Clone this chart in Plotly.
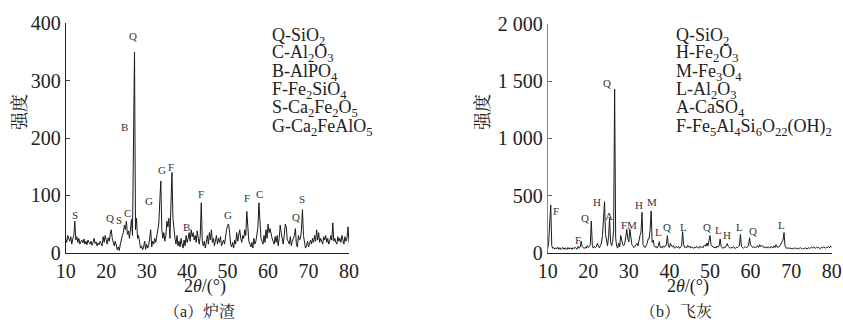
import plotly.graph_objects as go

# 2theta grid: 10 to 80 deg in 0.25 deg steps
two_theta = [10 + 0.25 * i for i in range(281)]

# (a) slag intensities (per degree: .00, .25, .50, .75)
slag = [
    25, 18, 30, 22,   20, 28, 15, 24,   30, 55, 22, 28,   18, 25, 15, 20,
    22, 17, 24, 15,   20, 14, 22, 18,   15, 20, 13, 18,   25, 16, 19, 12,
    17, 14, 20, 16,   12, 28, 18, 30,   22, 15, 26, 20,   32, 40, 25, 18,
    12, 20, 8, 5,     10, 4, 15, 25,    30, 35, 48, 40,   55, 32, 38, 25,
    45, 58, 30, 265,  350, 40, 60, 25,  30, 18, 8, 12,    5, 10, 20, 6,
    15, 8, 12, 25,    40, 10, 20, 15,   25, 18, 30, 40,   50, 90, 125, 40,
    25, 35, 20, 30,   55, 45, 60, 25,   100, 140, 60, 35, 25, 15, 30, 12,
    20, 10, 25, 15,   8, 22, 12, 30,   18, 25, 35, 20,   40, 28, 35, 22,
    30, 18, 38, 25,   15, 30, 87, 20,   12, 20, 8, 18,    30, 15, 35, 22,
    40, 18, 25, 12,   20, 30, 15, 25,   18, 28, 12, 20,   22, 15, 30, 40,
    48, 50, 35, 15,   10, 18, 8, 22,    15, 35, 20, 28,   40, 25, 18, 30,
    25, 40, 30, 72,   35, 20, 15, 10,   18, 8, 25, 15,    20, 35, 45, 87,
    50, 25, 20, 15,   30, 18, 40, 25,   50, 35, 42, 30,   25, 20, 15, 28,
    18, 30, 12, 25,   48, 35, 20, 15,   30, 50, 45, 22,   20, 15, 28, 12,
    20, 25, 30, 42,   15, 10, 30, 22,   25, 40, 75, 30,   15, 8, 12, 20,
    10, 18, 22, 15,   25, 18, 30, 20,   40, 22, 35, 18,   25, 20, 15, 28,
    22, 30, 18, 25,   15, 20, 30, 22,   52, 20, 25, 18,   15, 28, 20, 25,
    18, 30, 22, 15,   28, 20, 25, 45,   18,
]

# (b) fly ash intensities
ash = [
    35, 90, 260, 417,  60, 38, 45, 32,   42, 35, 48, 30,   44, 28, 38, 46,
    30, 42, 35, 28,    46, 32, 38, 42,   30, 44, 35, 48,   38, 30, 56, 40,
    48, 100, 55, 40,   36, 48, 40, 62,   45, 55, 70, 277,  62, 40, 56, 45,
    52, 82, 60, 42,    62, 85, 150, 300, 446, 160, 95, 60, 140, 300, 95, 60,
    90, 200, 1430, 130, 55, 40, 85, 50,  150, 110, 70, 62, 85, 140, 205, 120,
    95, 205, 110, 70,  60, 45, 56, 72,   82, 60, 125, 150, 180, 353, 70, 50,
    45, 60, 80, 120,   120, 200, 365, 90, 110, 60, 48, 55, 40, 60, 96, 45,
    50, 42, 60, 48,    55, 70, 149, 60,  45, 80, 58, 50,   62, 40, 48, 55,
    42, 55, 38, 48,    60, 184, 70, 45,  50, 42, 65, 48,   58, 40, 52, 45,
    38, 50, 42, 56,    45, 38, 55, 48,   52, 42, 60, 70,   55, 85, 60, 110,
    150, 70, 55, 48,   45, 52, 40, 58,   48, 60, 120, 55,  42, 38, 50, 45,
    60, 80, 55, 42,    38, 48, 40, 52,   42, 36, 48, 45,   52, 60, 160, 55,
    45, 40, 48, 52,    42, 55, 60, 130,  70, 58, 45, 52,   48, 42, 55, 60,
    46, 70, 52, 62,    58, 45, 50, 40,   52, 44, 48, 40,   55, 48, 42, 60,
    45, 70, 50, 48,    56, 60, 80, 100,  110, 176, 60, 42, 38, 44, 36, 42,
    34, 40, 30, 38,    42, 35, 40, 32,   36, 44, 38, 30,   40, 35, 42, 38,
    32, 45, 38, 42,    48, 40, 52, 45,   38, 50, 42, 46,   40, 35, 48, 42,
    52, 44, 38, 48,    45, 55, 42, 58,   50,
]

# peak labels
slag_lbl = ["Q", "B", "S", "Q", "S", "C", "G", "G", "F", "B", "F", "G", "F", "C", "Q", "S"]
slag_lbl_x = [26.7, 24.6, 12.3, 20.9, 23.2, 25.3, 30.6, 33.7, 36.0, 39.9, 43.4, 50.2, 54.7, 57.8, 66.9, 68.3]
slag_lbl_y = [377, 219, 66, 60, 57, 70, 90, 144, 149, 45, 102, 66, 95, 102, 63, 94]

ash_lbl = ["Q", "F", "F", "Q", "H", "A", "FM", "H", "M", "L", "Q", "L", "Q", "L", "H", "L", "Q", "L"]
ash_lbl_x = [24.6, 12.0, 17.4, 19.2, 22.1, 25.2, 30.0, 32.5, 35.8, 37.3, 39.4, 43.4, 49.3, 52.2, 54.3, 57.2, 60.7, 67.7]
ash_lbl_y = [1487, 365, 111, 300, 446, 324, 242, 417, 441, 184, 228, 228, 228, 199, 155, 228, 190, 242]

slag_legend = ["Q-SiO<sub>2</sub>", "C-Al<sub>2</sub>O<sub>3</sub>", "B-AlPO<sub>4</sub>",
               "F-Fe<sub>2</sub>SiO<sub>4</sub>", "S-Ca<sub>2</sub>Fe<sub>2</sub>O<sub>5</sub>",
               "G-Ca<sub>2</sub>FeAlO<sub>5</sub>"]
ash_legend = ["Q-SiO<sub>2</sub>", "H-Fe<sub>2</sub>O<sub>3</sub>", "M-Fe<sub>3</sub>O<sub>4</sub>",
              "L-Al<sub>2</sub>O<sub>3</sub>", "A-CaSO<sub>4</sub>",
              "F-Fe<sub>5</sub>Al<sub>4</sub>Si<sub>6</sub>O<sub>22</sub>(OH)<sub>2</sub>"]

x_ticks = [10, 20, 30, 40, 50, 60, 70, 80]
slag_yticks = [0, 100, 200, 300, 400]
ash_yticks = [0, 500, 1000, 1500, 2000]
ash_yticktext = ["0", "500", "1 000", "1 500", "2 000"]

SERIF = "Liberation Serif, Times New Roman, serif"
CJK = "Liberation Serif, Noto Serif CJK SC, Noto Sans CJK SC"

W, H = 843, 320


def px(x):
    return x / W


def py(y):
    return (H - y) / H


fig = go.Figure()
fig.add_trace(go.Scatter(x=two_theta, y=slag, mode="lines",
                         line=dict(color="#1a1a1a", width=1), xaxis="x", yaxis="y",
                         showlegend=False, hoverinfo="skip"))
fig.add_trace(go.Scatter(x=two_theta, y=ash, mode="lines",
                         line=dict(color="#1a1a1a", width=1), xaxis="x2", yaxis="y2",
                         showlegend=False, hoverinfo="skip"))

xax = dict(range=[10, 80], tickvals=x_ticks, showline=True, linecolor="#222", linewidth=1,
           ticks="", showgrid=False, zeroline=False, automargin=False,
           ticklabeloverflow="allow",
           tickfont=dict(family=SERIF, size=20, color="#222"))
fig.update_layout(
    width=W, height=H,
    margin=dict(l=0, r=0, t=0, b=0, autoexpand=False),
    paper_bgcolor="white", plot_bgcolor="white",
    xaxis=dict(domain=[px(65.7), px(349)], anchor="y", **xax),
    xaxis2=dict(domain=[px(547.7), px(831.7)], anchor="y2", **xax),
    yaxis=dict(domain=[py(252.7), py(23.3)], anchor="x", range=[0, 400], tickvals=slag_yticks,
               showline=True, linecolor="#222", linewidth=1, ticks="inside", ticklen=4,
               tickcolor="#444", showgrid=False, zeroline=False, automargin=False,
               tickfont=dict(family=SERIF, size=20, color="#222")),
    yaxis2=dict(domain=[py(252.7), py(24)], anchor="x2", range=[0, 2000], tickvals=ash_yticks,
                ticktext=ash_yticktext,
                showline=True, linecolor="#888", linewidth=1, ticks="inside", ticklen=4,
                tickcolor="#666", showgrid=False, zeroline=False, automargin=False,
                tickfont=dict(family=SERIF, size=20, color="#222")),
)

ann = []
for t, x, y in zip(slag_lbl, slag_lbl_x, slag_lbl_y):
    ann.append(dict(x=x, y=y, xref="x", yref="y", text=t, showarrow=False,
                    xanchor="center", yanchor="middle",
                    font=dict(family=SERIF, size=11, color="#333")))
for t, x, y in zip(ash_lbl, ash_lbl_x, ash_lbl_y):
    ann.append(dict(x=x, y=y, xref="x2", yref="y2", text=t, showarrow=False,
                    xanchor="center", yanchor="middle",
                    font=dict(family=SERIF, size=11, color="#333")))

leg_y = [36, 54, 72, 90, 109, 127]
for t, yp in zip(slag_legend, leg_y):
    ann.append(dict(x=px(270), y=py(yp), xref="paper", yref="paper", text=t,
                    showarrow=False, xanchor="left", yanchor="middle",
                    font=dict(family=SERIF, size=18, color="#222")))
for t, yp in zip(ash_legend, leg_y):
    ann.append(dict(x=px(674), y=py(yp), xref="paper", yref="paper", text=t,
                    showarrow=False, xanchor="left", yanchor="middle",
                    font=dict(family=SERIF, size=18, color="#222")))

# axis titles and captions
for xc in [20, 483]:
    ann.append(dict(x=px(xc), y=py(112), xref="paper", yref="paper", text="强度",
                    textangle=-90, showarrow=False, xanchor="center", yanchor="middle",
                    font=dict(family=CJK, size=18, color="#222")))
for xc in [205, 688]:
    ann.append(dict(x=px(xc), y=py(286), xref="paper", yref="paper",
                    text="2<i>θ</i>/(°)", showarrow=False, xanchor="center", yanchor="middle",
                    font=dict(family=SERIF, size=18, color="#222")))
for xc, t in [(199, "（a）炉渣"), (676, "（b）飞灰")]:
    ann.append(dict(x=px(xc), y=py(311), xref="paper", yref="paper", text=t,
                    showarrow=False, xanchor="center", yanchor="middle",
                    font=dict(family=CJK, size=16, color="#222")))

fig.update_layout(annotations=ann)
fig.write_html("out.html", config={"displayModeBar": False},
               post_script="document.body.style.margin='0';document.body.style.overflow='hidden';")
